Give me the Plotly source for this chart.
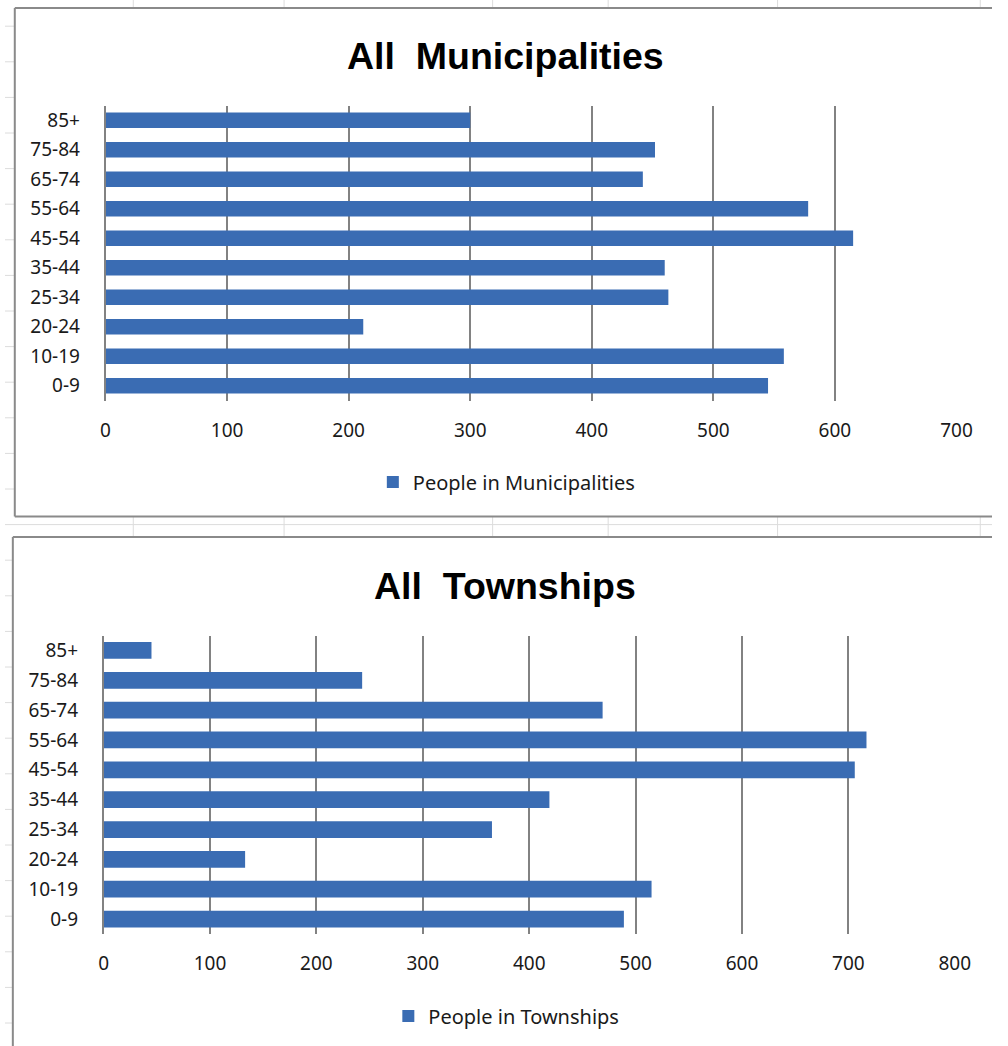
import plotly.graph_objects as go

# ---------------- data ----------------
age_groups = ["0-9", "10-19", "20-24", "25-34", "35-44", "45-54", "55-64", "65-74", "75-84", "85+"]
municipalities = [545, 558, 212, 463, 460, 615, 578, 442, 452, 300]
townships = [489, 515, 133, 365, 419, 706, 717, 469, 243, 45]
x_ticks_muni = [0, 100, 200, 300, 400, 500, 600, 700]
x_ticks_town = [0, 100, 200, 300, 400, 500, 600, 700, 800]

W, H = 1008, 1046


def px(x):
    return x / W


def py(y):
    return 1 - y / H


BAR = "#3A6CB3"
GRID = "#828282"
TICKFONT = dict(family="Noto Sans, Open Sans, sans-serif", size=19, color="#1a1a1a")
LEGFONT = dict(family="Noto Sans, Open Sans, sans-serif", size=20, color="#1a1a1a")
TITLEFONT = dict(family="Liberation Sans, Arial, sans-serif", size=37.5, color="#000000")

fig = go.Figure()
fig.add_trace(go.Bar(
    y=age_groups, x=municipalities, orientation="h", width=0.52,
    marker=dict(color=BAR, line=dict(width=0)),
    name="People in Municipalities", xaxis="x", yaxis="y", legend="legend",
))
fig.add_trace(go.Bar(
    y=age_groups, x=townships, orientation="h", width=0.56,
    marker=dict(color=BAR, line=dict(width=0)),
    name="People in Townships", xaxis="x2", yaxis="y2", legend="legend2",
))

xcommon = dict(showgrid=True, gridcolor=GRID, gridwidth=1.6, zeroline=False,
               showline=False, ticks="", tickfont=TICKFONT, ticklabelstandoff=16,
               fixedrange=True)
ycommon = dict(showgrid=False, zeroline=False, showline=True, linecolor=GRID,
               linewidth=1.6, ticks="", tickfont=TICKFONT, ticklabelstandoff=20,
               type="category", categoryorder="array", categoryarray=age_groups,
               fixedrange=True)

# decorative spreadsheet grid behind the charts (kept inside the page)
shapes = []
for cx in [131, 285, 498, 616, 789, 996]:
    shapes.append(dict(type="line", xref="paper", yref="paper", x0=px(cx), x1=px(cx),
                       y0=0, y1=1, line=dict(color="#dcdcdc", width=1), layer="below"))
ry = 26.2
while ry < H - 2:
    shapes.append(dict(type="line", xref="paper", yref="paper", x0=0, x1=1,
                       y0=py(ry), y1=py(ry), line=dict(color="#dcdcdc", width=1), layer="below"))
    ry += 35.6
# chart frames: white panels plus visible edges
BORDER = dict(color="#8a8a8a", width=2)
for (x0, y0, y1) in [(10, 8, 516.5), (8, 537, H)]:
    shapes.append(dict(type="rect", xref="paper", yref="paper",
                       x0=px(x0), x1=1, y0=py(y1), y1=py(y0),
                       fillcolor="white", line=dict(width=0), layer="below"))
    shapes.append(dict(type="line", xref="paper", yref="paper",
                       x0=px(x0), x1=px(x0), y0=py(y1), y1=py(y0), line=BORDER, layer="below"))
    shapes.append(dict(type="line", xref="paper", yref="paper",
                       x0=px(x0), x1=1, y0=py(y0), y1=py(y0), line=BORDER, layer="below"))
    if y1 < H:
        shapes.append(dict(type="line", xref="paper", yref="paper",
                           x0=px(x0), x1=1, y0=py(y1), y1=py(y1), line=BORDER, layer="below"))

fig.update_layout(
    width=W, height=H, margin=dict(l=0, r=0, t=0, b=0),
    paper_bgcolor="white", plot_bgcolor="rgba(0,0,0,0)",
    showlegend=True,
    xaxis=dict(domain=[px(102.7), px(971.7)], range=[0, 700], tickvals=x_ticks_muni,
               anchor="y", **xcommon),
    yaxis=dict(domain=[py(400.5), py(105.5)], anchor="x", **ycommon),
    xaxis2=dict(domain=[px(100.7), px(970)], range=[0, 800], tickvals=x_ticks_town,
                anchor="y2", **xcommon),
    yaxis2=dict(domain=[py(934), py(635.5)], anchor="x2", **ycommon),
    legend=dict(orientation="h", x=px(512), xanchor="center", y=py(482), yanchor="middle",
                font=LEGFONT, bgcolor="rgba(0,0,0,0)", itemwidth=30),
    legend2=dict(orientation="h", x=px(512), xanchor="center", y=py(1016), yanchor="middle",
                 font=LEGFONT, bgcolor="rgba(0,0,0,0)", itemwidth=30),
    shapes=shapes,
    annotations=[
        dict(text="All  Municipalities", x=px(511.5), y=py(56), xref="paper", yref="paper",
             xanchor="center", yanchor="middle", showarrow=False, font=TITLEFONT),
        dict(text="All  Townships", x=px(510.5), y=py(586), xref="paper", yref="paper",
             xanchor="center", yanchor="middle", showarrow=False, font=TITLEFONT),
    ],
)
for ann in fig.layout.annotations:
    ann.font.weight = "bold"

fig.write_html(
    "out.html",
    config={"responsive": False, "displayModeBar": False},
    post_script="document.body.style.margin='0';document.body.style.overflow='hidden';",
)
